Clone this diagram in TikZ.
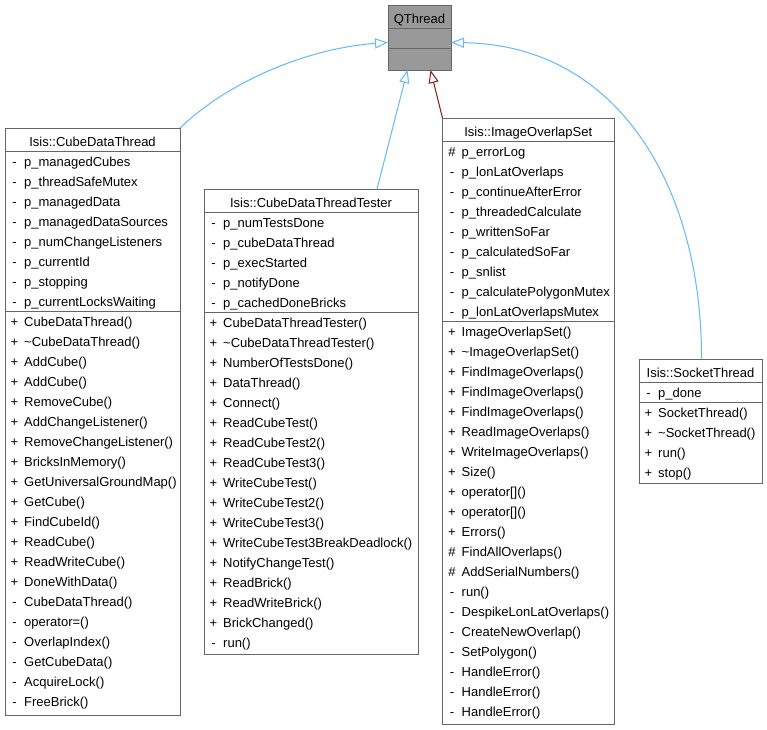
\documentclass[tikz,border=0pt]{standalone}
\usepackage{fontspec}
\setmainfont{Liberation Sans}
\usepackage{tikz}
\usetikzlibrary{arrows.meta}
\definecolor{boxBorder}{HTML}{666666}
\definecolor{baseFill}{HTML}{999999}
\definecolor{publicEdge}{HTML}{63B8FF}
\definecolor{privateEdge}{HTML}{8B1A1A}

\begin{document}
\begin{tikzpicture}[x=1pt, y=-1pt, font=\fontsize{13}{15}\selectfont]
    \newcommand*{\rowGap}{20}
    \newcommand*{\memberRows}[3]{%
      \foreach \v/\m [count=\i from 0] in {#3} {
        \node[member sign] at (#1+9.5, #2+\rowGap*\i) {\v};
        \node[member] at (#1+19, #2+\rowGap*\i) {\m};
      }}
    \tikzstyle{class box}=[draw=boxBorder, fill=white, line width=1pt, inner sep=0pt, outer sep=0pt, anchor=north west];
    \tikzstyle{class name}=[anchor=base, inner sep=0pt];
    \tikzstyle{member}=[anchor=base west, inner sep=0pt];
    \tikzstyle{member sign}=[anchor=base, inner sep=0pt];
    \tikzstyle{section}=[draw=boxBorder, line width=1pt];
    \tikzstyle{inherits}=[line width=1pt, -{Triangle[open, length=13pt, width=10pt]}];

    \path[fill=white, use as bounding box] (0,0) rectangle (767,729);

    \node[class box, fill=baseFill, minimum width=63pt, minimum height=65pt] (qThread) at (388,5) {};
    \node[class name] at (419.5,23) {QThread};
    \draw[section] ([yshift=-23pt]qThread.north west) -- ([yshift=-23pt]qThread.north east);
    \draw[section] ([yshift=-43pt]qThread.north west) -- ([yshift=-43pt]qThread.north east);

    \node[class box, minimum width=175pt, minimum height=587pt] (cubeDataThread) at (5,128) {};
    \node[class name] at (92.5,146) {Isis::CubeDataThread};
    \draw[section] ([yshift=-23pt]cubeDataThread.north west) -- ([yshift=-23pt]cubeDataThread.north east);
    \draw[section] ([yshift=-183pt]cubeDataThread.north west) -- ([yshift=-183pt]cubeDataThread.north east);
    \memberRows{5}{166}{-/p\_managedCubes, -/p\_threadSafeMutex, -/p\_managedData, -/p\_managedDataSources,
      -/p\_numChangeListeners, -/p\_currentId, -/p\_stopping, -/p\_currentLocksWaiting}
    \memberRows{5}{326}{+/CubeDataThread(), +/\textasciitilde CubeDataThread(), +/AddCube(), +/AddCube(),
      +/RemoveCube(), +/AddChangeListener(), +/RemoveChangeListener(), +/BricksInMemory(),
      +/GetUniversalGroundMap(), +/GetCube(), +/FindCubeId(), +/ReadCube(), +/ReadWriteCube(),
      +/DoneWithData(), -/CubeDataThread(), -/operator=(), -/OverlapIndex(), -/GetCubeData(),
      -/AcquireLock(), -/FreeBrick()}

    \node[class box, minimum width=214pt, minimum height=465pt] (cubeDataThreadTester) at (204,189) {};
    \node[class name] at (311,207) {Isis::CubeDataThreadTester};
    \draw[section] ([yshift=-23pt]cubeDataThreadTester.north west) -- ([yshift=-23pt]cubeDataThreadTester.north east);
    \draw[section] ([yshift=-123pt]cubeDataThreadTester.north west) -- ([yshift=-123pt]cubeDataThreadTester.north east);
    \memberRows{204}{227}{-/p\_numTestsDone, -/p\_cubeDataThread, -/p\_execStarted, -/p\_notifyDone,
      -/p\_cachedDoneBricks}
    \memberRows{204}{327}{+/CubeDataThreadTester(), +/\textasciitilde CubeDataThreadTester(),
      +/NumberOfTestsDone(), +/DataThread(), +/Connect(), +/ReadCubeTest(), +/ReadCubeTest2(),
      +/ReadCubeTest3(), +/WriteCubeTest(), +/WriteCubeTest2(), +/WriteCubeTest3(),
      +/WriteCubeTest3BreakDeadlock(), +/NotifyChangeTest(), +/ReadBrick(), +/ReadWriteBrick(),
      +/BrickChanged(), -/run()}

    \node[class box, minimum width=171.5pt, minimum height=606.5pt] (imageOverlapSet) at (442.5,118) {};
    \node[class name] at (528.25,136) {Isis::ImageOverlapSet};
    \draw[section] ([yshift=-23pt]imageOverlapSet.north west) -- ([yshift=-23pt]imageOverlapSet.north east);
    \draw[section] ([yshift=-203pt]imageOverlapSet.north west) -- ([yshift=-203pt]imageOverlapSet.north east);
    \memberRows{442.5}{156}{\#/p\_errorLog, -/p\_lonLatOverlaps, -/p\_continueAfterError,
      -/p\_threadedCalculate, -/p\_writtenSoFar, -/p\_calculatedSoFar, -/p\_snlist,
      -/p\_calculatePolygonMutex, -/p\_lonLatOverlapsMutex}
    \memberRows{442.5}{336}{+/ImageOverlapSet(), +/\textasciitilde ImageOverlapSet(), +/FindImageOverlaps(),
      +/FindImageOverlaps(), +/FindImageOverlaps(), +/ReadImageOverlaps(), +/WriteImageOverlaps(),
      +/Size(), +/operator[](), +/operator[](), +/Errors(), \#/FindAllOverlaps(),
      \#/AddSerialNumbers(), -/run(), -/DespikeLonLatOverlaps(), -/CreateNewOverlap(),
      -/SetPolygon(), -/HandleError(), -/HandleError(), -/HandleError()}

    \node[class box, minimum width=123pt, minimum height=124.5pt] (socketThread) at (639,359) {};
    \node[class name] at (700.5,377) {Isis::SocketThread};
    \draw[section] ([yshift=-23pt]socketThread.north west) -- ([yshift=-23pt]socketThread.north east);
    \draw[section] ([yshift=-43pt]socketThread.north west) -- ([yshift=-43pt]socketThread.north east);
    \memberRows{639}{397}{-/p\_done}
    \memberRows{639}{417}{+/SocketThread(), +/\textasciitilde SocketThread(), +/run(), +/stop()}

    \draw[inherits, publicEdge] (cubeDataThread.north east) .. controls (230,80) and (310,48) .. ([yshift=-5pt]qThread.west);
    \draw[inherits, publicEdge] ([xshift=-41pt]cubeDataThreadTester.north east) -- ([xshift=-12pt]qThread.south);
    \draw[inherits, privateEdge] (imageOverlapSet.north west) -- ([xshift=11pt]qThread.south);
    \draw[inherits, publicEdge] ([xshift=1pt]socketThread.north) .. controls (702,190) and (620,45) .. ([yshift=-5pt]qThread.east);
\end{tikzpicture}
\end{document}
